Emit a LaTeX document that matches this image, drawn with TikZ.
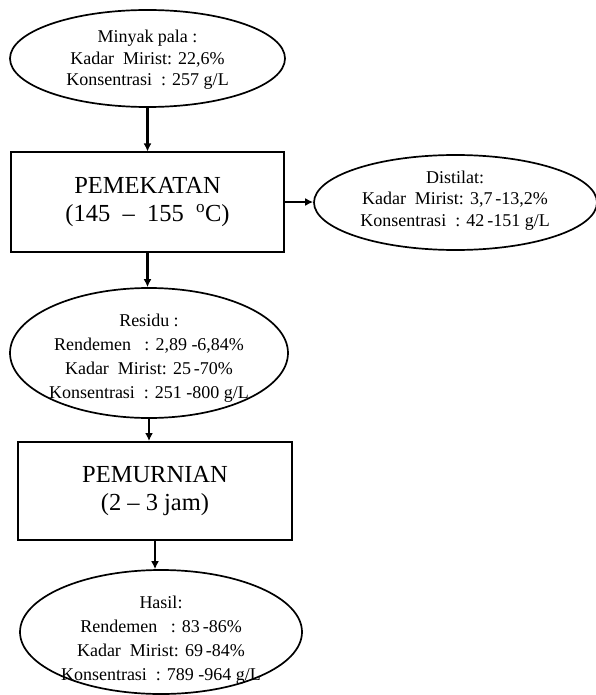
\documentclass[tikz,border=0pt]{standalone}
\usepackage{fontspec}
\setmainfont{Liberation Serif}
\usetikzlibrary{shapes.geometric,arrows.meta}
\begin{document}
\begin{tikzpicture}[x=1pt,y=1pt,
 oval/.style={draw,ellipse,line width=1.7pt,inner sep=0pt},
 ovaltext/.style={inner sep=0pt,align=center,font=\fontsize{18}{21.5}\selectfont},
 ovaltextlong/.style={ovaltext,font=\fontsize{18}{23.8}\selectfont},
 procbox/.style={draw,rectangle,line width=2pt,inner sep=0pt,align=center,font=\fontsize{24.5}{28}\selectfont},
 flow/.style={line width=2.4pt,-{Latex[length=8pt,width=8pt]}}]
\useasboundingbox (0,0) rectangle (595,-695);
\node[oval,minimum width=275,minimum height=97] (minyak) at (147.5,-58.5) {};
\node[ovaltext] (minyakt) at (147.5,-60)
 {Minyak pala :\\Kadar\ \ Mirist: 22,6\%\\Konsentrasi\ \ : 257 g/L};
\node[procbox,minimum width=273,minimum height=99] (pemekatan) at (147.5,-202)
 {PEMEKATAN\\(145\ \ --\ \ 155\ \ \textsuperscript{o}C)};
\node[oval,minimum width=283,minimum height=95] (distilat) at (455.5,-202.5) {};
\node[ovaltext] (distilatt) at (455,-200.5)
 {Distilat:\\Kadar\ \ Mirist: 3,7\,-13,2\%\\Konsentrasi\ \ : 42\,-151 g/L};
\node[oval,minimum width=278,minimum height=130] (residu) at (149,-353) {};
\node[ovaltextlong] (residut) at (149,-358)
 {Residu :\\Rendemen\ \ \ : 2,89 -6,84\%\\Kadar\ \ Mirist: 25\,-70\%\\Konsentrasi\ \ : 251 -800 g/L};
\node[procbox,minimum width=274,minimum height=98] (pemurnian) at (155,-491)
 {PEMURNIAN\\(2 -- 3 jam)};
\node[oval,minimum width=282,minimum height=124] (hasil) at (161,-632) {};
\node[ovaltextlong] (hasilt) at (161,-640)
 {Hasil:\\Rendemen\ \ \ : 83\,-86\%\\Kadar\ \ Mirist: 69\,-84\%\\Konsentrasi\ \ : 789 -964 g/L};
\draw[flow] (minyak.south) -- (pemekatan.north);
\draw[flow] (pemekatan.east) -- (pemekatan.east -| distilat.west);
\draw[flow] (pemekatan.south) -- (pemekatan.south |- residu.north);
\draw[flow] (residu.south) -- (residu.south |- pemurnian.north);
\draw[flow] (pemurnian.south) -- (pemurnian.south |- hasil.north);
\end{tikzpicture}
\end{document}
